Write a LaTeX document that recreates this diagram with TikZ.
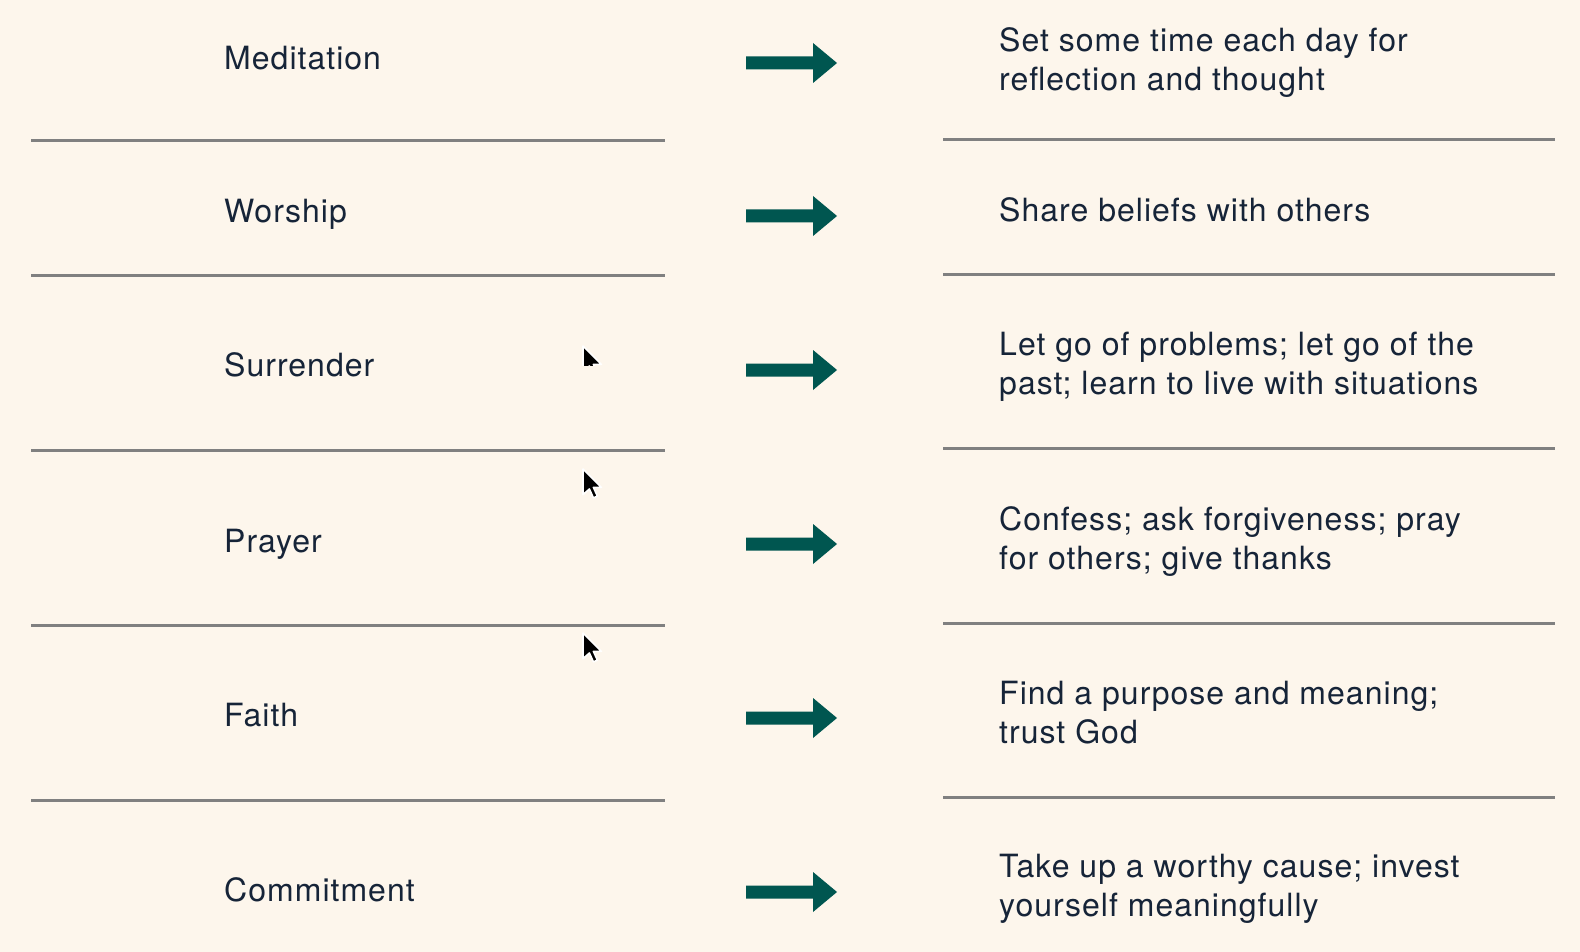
\documentclass[tikz,border=0pt]{standalone}
\usepackage{fontspec}
\setmainfont{TeX Gyre Heros}[LetterSpace=3.2]
\definecolor{bg}{RGB}{253,246,236}
\definecolor{ink}{RGB}{22,36,56}
\definecolor{teal}{RGB}{0,86,80}
\definecolor{rule}{RGB}{128,128,128}
\begin{document}
\begin{tikzpicture}[x=1pt,y=-1pt,
  lbl/.style={anchor=west,inner sep=0pt,text=ink,font=\fontsize{32}{39}\selectfont},
  desc/.style={anchor=west,inner sep=0pt,text=ink,align=left,font=\fontsize{32}{39}\selectfont},
  sep/.style={draw=rule,line width=3pt},
  bigarrow/.style={fill=teal},
  cursorshape/.style={fill=black,draw=white,line width=1.6pt,line join=round}]
\fill[bg] (0,0) rectangle (1580,952);
\useasboundingbox (0,0) rectangle (1580,952);
% separators
\foreach \y in {141,275,450,625,800} {\draw[sep] (31,\y) -- (665,\y);}
\foreach \y in {140,274,448,623,797} {\draw[sep] (943,\y) -- (1555,\y);}
% labels
\node[lbl] (l1) at (224,58) {Meditation};
\node[lbl] (l2) at (224,214) {Worship};
\node[lbl] (l3) at (224,365) {Surrender};
\node[lbl] (l4) at (224,544) {Prayer};
\node[lbl] (l5) at (224,715) {Faith};
\node[lbl] (l6) at (224,890) {Commitment};
\node[desc] (r1) at (999,63) {Set some time each day for\\reflection and thought};
\node[desc] (r2) at (999,210) {Share beliefs with others};
\node[desc] (r3) at (999,367) {Let go of problems; let go of the\\past; learn to live with situations};
\node[desc] (r4) at (999,542) {Confess; ask forgiveness; pray\\for others; give thanks};
\node[desc] (r5) at (999,713) {Find a purpose and meaning;\\trust God};
\node[desc] (r6) at (999,889) {Take up a worthy cause; invest\\yourself meaningfully};
% arrows
\foreach \y in {63,216,370,544,718,892} {
  \fill[bigarrow] (746,\y-6.5) -- (813,\y-6.5) -- (813,\y-20) -- (837,\y) -- (813,\y+20) -- (813,\y+6.5) -- (746,\y+6.5) -- cycle;
}
% cursors
\begin{scope}
\clip (560,340) rectangle (620,365);
\draw[cursorshape,shift={(583,346)},scale=1.6] (0,0) -- (0,16) -- (4,12.5) -- (6.5,18) -- (9,17) -- (6.5,11.5) -- (11.5,11.5) -- cycle;
\end{scope}
\draw[cursorshape,shift={(583,469)},scale=1.6] (0,0) -- (0,16) -- (4,12.5) -- (6.5,18) -- (9,17) -- (6.5,11.5) -- (11.5,11.5) -- cycle;
\draw[cursorshape,shift={(583,633)},scale=1.6] (0,0) -- (0,16) -- (4,12.5) -- (6.5,18) -- (9,17) -- (6.5,11.5) -- (11.5,11.5) -- cycle;
\end{tikzpicture}
\end{document}
